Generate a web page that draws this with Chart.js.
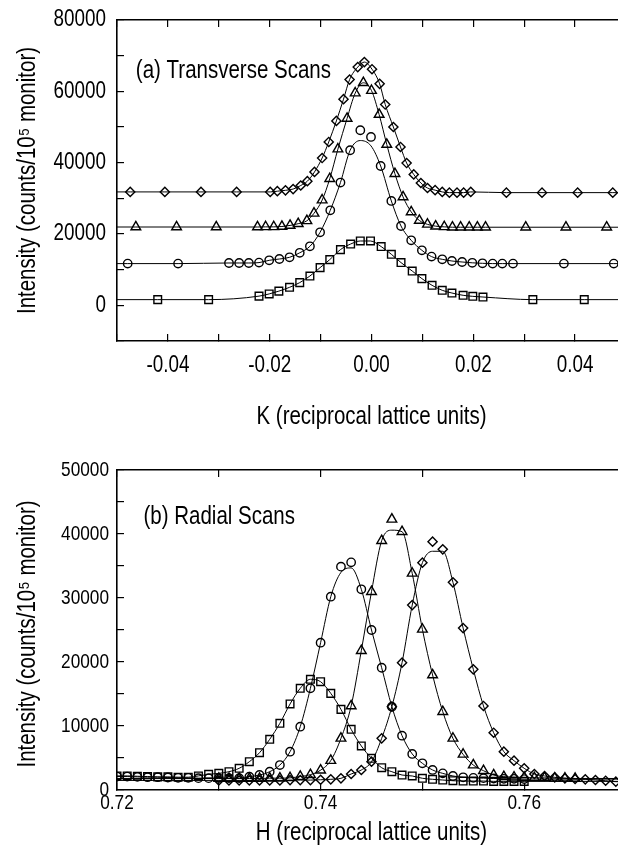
<!DOCTYPE html>
<html>
<head>
<meta charset="utf-8">
<script src="https://cdn.jsdelivr.net/npm/chart.js@4.4.1/dist/chart.umd.min.js"></script>
<style>
  html, body { margin: 0; padding: 0; background: #fff; overflow: hidden; }
  #wrap { position: relative; width: 618px; height: 852px; overflow: hidden; }
  .box { position: absolute; left: 0; }
  #top { top: 0; }
  #bot { top: 430px; }
</style>
</head>
<body>
<div id="wrap">
  <div class="box" id="top"><canvas id="c1" width="640" height="430"></canvas></div>
  <div class="box" id="bot"><canvas id="c2" width="640" height="422"></canvas></div>
</div>
<script>
// ---- (a) transverse scans, K in r.l.u.
const kDiamond = [-0.0474, -0.0406, -0.0335, -0.0265, -0.0199, -0.0185, -0.0169, -0.0154, -0.0139, -0.0126, -0.0112, -0.0097, -0.0084, -0.0069, -0.0055, -0.0043, -0.0027, -0.0014, 0.0001, 0.0016, 0.0027, 0.0043, 0.0057, 0.0069, 0.0083, 0.0097, 0.0110, 0.0125, 0.0139, 0.0153, 0.0168, 0.0181, 0.0195, 0.0265, 0.0335, 0.0405, 0.0474];
const iDiamond = [31800, 31800, 31800, 31800, 31800, 32000, 32250, 32600, 33600, 34800, 37400, 41300, 45800, 51700, 57800, 63300, 66800, 68200, 66200, 62100, 56300, 50000, 44400, 39900, 36700, 34300, 32900, 32300, 31800, 31600, 31600, 31600, 31800, 31600, 31600, 31600, 31600];

const kTriangle = [-0.0463, -0.0383, -0.0305, -0.0224, -0.0208, -0.0192, -0.0176, -0.0160, -0.0144, -0.0127, -0.0113, -0.0097, -0.0082, -0.0066, -0.0048, -0.0032, -0.0016, 0.0000, 0.0015, 0.0030, 0.0046, 0.0062, 0.0078, 0.0094, 0.0110, 0.0126, 0.0143, 0.0159, 0.0175, 0.0192, 0.0208, 0.0224, 0.0303, 0.0382, 0.0462];
const iTriangle = [21960, 21960, 21960, 21960, 22000, 22000, 22100, 22400, 22900, 23700, 25800, 29500, 35500, 43800, 52400, 59500, 62400, 60200, 53500, 45100, 36900, 30400, 26200, 23800, 22700, 22200, 22000, 21900, 21900, 21900, 21900, 21900, 21900, 21900, 21900];

const kCircle = [-0.0479, -0.0380, -0.0280, -0.0260, -0.0241, -0.0221, -0.0201, -0.0181, -0.0161, -0.0141, -0.0121, -0.0101, -0.0081, -0.0061, -0.0042, -0.0022, -0.0001, 0.0018, 0.0039, 0.0058, 0.0078, 0.0099, 0.0118, 0.0139, 0.0158, 0.0178, 0.0198, 0.0218, 0.0238, 0.0257, 0.0278, 0.0378, 0.0476];
const iCircle = [11700, 11700, 11870, 11870, 11870, 11980, 12620, 12990, 13460, 14730, 16550, 20480, 26650, 34420, 43480, 49090, 47210, 39070, 29260, 22240, 18230, 15430, 13660, 12900, 12430, 12150, 11920, 11780, 11700, 11700, 11700, 11700, 11700];
const fitCircle = [11700, 11700, 11870, 11870, 11870, 11980, 12620, 12990, 13460, 14730, 16550, 20480, 26650, 34420, 43480, 46200, 44700, 39070, 29260, 22240, 18230, 15430, 13660, 12900, 12430, 12150, 11920, 11780, 11700, 11700, 11700, 11700, 11700];

const kSquare = [-0.0420, -0.0320, -0.0221, -0.0201, -0.0182, -0.0161, -0.0141, -0.0121, -0.0101, -0.0082, -0.0061, -0.0041, -0.0022, -0.0002, 0.0019, 0.0039, 0.0058, 0.0080, 0.0099, 0.0119, 0.0139, 0.0158, 0.0180, 0.0199, 0.0219, 0.0317, 0.0418];
const iSquare = [1600, 1600, 2580, 3200, 3980, 5050, 6370, 8220, 10570, 12820, 15620, 17190, 18040, 18040, 16470, 14310, 11980, 9620, 7490, 5610, 4210, 3450, 2810, 2520, 2330, 1600, 1600];

// ---- (b) radial scans, H in r.l.u.
const hScan = [0.720, 0.721, 0.722, 0.723, 0.724, 0.725, 0.726, 0.727, 0.728, 0.729, 0.730, 0.731, 0.732, 0.733, 0.734, 0.735, 0.736, 0.737, 0.738, 0.739, 0.740, 0.741, 0.742, 0.743, 0.744, 0.745, 0.746, 0.747, 0.748, 0.749, 0.750, 0.751, 0.752, 0.753, 0.754, 0.755, 0.756, 0.757, 0.758, 0.759, 0.760];
const rSquare = [2200, 2200, 2150, 2100, 2050, 2050, 2000, 2000, 2200, 2450, 2600, 2860, 3390, 4420, 5830, 7920, 10420, 13440, 15890, 17300, 16920, 15100, 12600, 9480, 6880, 4950, 3480, 2860, 2340, 2190, 1830, 1670, 1560, 1450, 1400, 1400, 1400, 1350, 1350, 1350, 1350];
const rCircle = [2100, 2100, 2050, 2000, 2000, 1950, 1900, 1900, 1850, 1850, 1850, 1850, 1850, 2080, 2340, 2860, 3900, 5990, 9890, 15890, 23020, 30200, 34900, 35570, 31360, 25000, 19100, 13020, 8490, 5630, 4170, 3130, 2600, 2190, 1980, 1900, 1850, 1800, 1750, 1750, 1700];
const rCircleFit = [2100, 2100, 2050, 2000, 2000, 1950, 1900, 1900, 1850, 1850, 1850, 1850, 1850, 2080, 2340, 2860, 3900, 5990, 9890, 15890, 23020, 30200, 34000, 34700, 31360, 25000, 19100, 13020, 8490, 5630, 4170, 3130, 2600, 2190, 1980, 1900, 1850, 1800, 1750, 1750, 1700];

const hTriangle = [0.730, 0.731, 0.732, 0.733, 0.734, 0.735, 0.736, 0.737, 0.738, 0.739, 0.740, 0.741, 0.742, 0.743, 0.744, 0.745, 0.746, 0.747, 0.748, 0.749, 0.750, 0.751, 0.752, 0.753, 0.754, 0.755, 0.756, 0.757, 0.758, 0.759, 0.760, 0.761, 0.762, 0.763, 0.764, 0.765];
const rTriangle = [1800, 1800, 1800, 1800, 1800, 1850, 1850, 1900, 2100, 2400, 3100, 4600, 8070, 13130, 21770, 30990, 38960, 42300, 40360, 33850, 25100, 17970, 12240, 8070, 5570, 3900, 3020, 2340, 2080, 2000, 1950, 1900, 1900, 1850, 1850, 1800];
const rTriangleFit = [1800, 1800, 1800, 1800, 1800, 1850, 1850, 1900, 2100, 2400, 3100, 4600, 8070, 13130, 21770, 30990, 38960, 40600, 40360, 33850, 25100, 17970, 12240, 8070, 5570, 3900, 3020, 2340, 2080, 2000, 1950, 1900, 1900, 1850, 1850, 1800];

const hDiamond = [0.730, 0.731, 0.732, 0.733, 0.734, 0.735, 0.736, 0.737, 0.738, 0.739, 0.740, 0.741, 0.742, 0.743, 0.744, 0.745, 0.746, 0.747, 0.748, 0.749, 0.750, 0.751, 0.752, 0.753, 0.754, 0.755, 0.756, 0.757, 0.758, 0.759, 0.760, 0.761, 0.762, 0.763, 0.764, 0.765, 0.766, 0.767, 0.768, 0.769];
const rDiamond = [1500, 1500, 1500, 1500, 1500, 1500, 1500, 1550, 1550, 1550, 1600, 1670, 1830, 2500, 3125, 4420, 8070, 13020, 19890, 28900, 35520, 38800, 37600, 32450, 25300, 18860, 13130, 8950, 5990, 4580, 3390, 2500, 2190, 1980, 1830, 1720, 1670, 1560, 1450, 1300];
const rDiamondFit = [1500, 1500, 1500, 1500, 1500, 1500, 1500, 1550, 1550, 1550, 1600, 1670, 1830, 2500, 3125, 4420, 8070, 13020, 19890, 28900, 35520, 37300, 37300, 32450, 25300, 18860, 13130, 8950, 5990, 4580, 3390, 2500, 2190, 1980, 1830, 1720, 1670, 1560, 1450, 1300];

const FONT = "'Liberation Sans', Arial, Helvetica, sans-serif";
const SQUEEZE = 0.82;   // no narrow face installed, so squeeze Liberation Sans
const Y_TITLE = 'Intensity (counts/10\u2075 monitor)';
Chart.defaults.font.family = FONT;
Chart.defaults.color = '#000';
Chart.defaults.animation = false;

function pts(xs, ys) {
    return xs.map((x, i) => ({ x: x, y: ys[i] }));
}
// fitted curve runs out to both edges of the frame
function curve(xs, ys, lo, hi) {
    return [{ x: lo, y: ys[0] }, ...pts(xs, ys), { x: hi, y: ys[ys.length - 1] }];
}
function markers(data, style, r) {
    return {
        data: data, showLine: false, pointStyle: style, pointRadius: r,
        pointBorderColor: '#000', pointBackgroundColor: 'rgba(0,0,0,0)',
        pointBorderWidth: 1.4, pointHoverRadius: r
    };
}
function line(data) {
    return {
        data: data, showLine: true, pointRadius: 0, borderColor: '#000',
        borderWidth: 1, cubicInterpolationMode: 'monotone'
    };
}

function narrowText(ctx, text, x, y, size, align, vertical) {
    ctx.save();
    ctx.translate(x, y);
    if (vertical) ctx.rotate(-Math.PI / 2);
    ctx.scale(SQUEEZE, 1);
    ctx.font = size + 'px ' + FONT;
    ctx.fillStyle = '#000';
    ctx.textAlign = align;
    ctx.textBaseline = 'middle';
    ctx.fillText(text, 0, 0);
    ctx.restore();
}

// tick labels, axis titles and panel caption, drawn condensed
const textPlugin = {
    id: 'narrowText',
    afterDraw(chart, args, o) {
        const { ctx, chartArea: a, scales } = chart;
        const sx = scales.x, sy = scales.y;
        sx.ticks.forEach(t => {
            const s = o.xLabel(t.value);
            if (s) narrowText(ctx, s, sx.getPixelForValue(t.value), a.bottom + o.xLabelOff, o.xFont, 'center');
        });
        sy.ticks.forEach(t => {
            const s = o.yLabel(t.value);
            if (s) narrowText(ctx, s, a.left - o.yLabelGap, sy.getPixelForValue(t.value), o.yFont, 'right');
        });
        narrowText(ctx, o.xTitle, (a.left + a.right) / 2, a.bottom + o.xTitleOff, 25, 'center');
        narrowText(ctx, Y_TITLE, 28, (a.top + a.bottom) / 2 + o.yTitleShift, 25, 'center', true);
        narrowText(ctx, o.note, sx.getPixelForValue(o.noteX), sy.getPixelForValue(o.noteY), 25, 'left');
    }
};

function axes(o) {
    const tickGrid = { drawOnChartArea: false, tickLength: -7, color: '#000', lineWidth: 1.2 };
    const border = { color: '#000', width: 1.6 };
    return {
        x: {
            type: 'linear', position: 'bottom', min: o.xmin, max: o.xmax,
            ticks: { stepSize: 0.01, display: false },
            grid: tickGrid, border: border,
            afterFit: s => { s.height = o.xHeight; }
        },
        xTop: {
            type: 'linear', position: 'top', min: o.xmin, max: o.xmax,
            ticks: { stepSize: 0.01, display: false },
            grid: tickGrid, border: border,
            afterFit: s => { s.height = 0; }
        },
        y: {
            type: 'linear', position: 'left', min: o.ymin, max: o.ymax,
            ticks: { stepSize: o.yStep, display: false },
            grid: tickGrid, border: border,
            afterFit: s => { s.width = 117; }
        },
        yRight: {
            type: 'linear', position: 'right', min: o.ymin, max: o.ymax,
            ticks: { stepSize: o.yStep, display: false },
            grid: tickGrid, border: border,
            afterFit: s => { s.width = 0; }
        }
    };
}

const xFmt = v => Math.round(v * 100) % 2 === 0 ? v.toFixed(2) : '';

const kMin = -0.05, kMax = 0.05;
new Chart(document.getElementById('c1'), {
    type: 'scatter',
    plugins: [textPlugin],
    data: {
        datasets: [
            line(curve(kDiamond, iDiamond, kMin, kMax)),
            line(curve(kTriangle, iTriangle, kMin, kMax)),
            line(curve(kCircle, fitCircle, kMin, kMax)),
            line(curve(kSquare, iSquare, kMin, kMax)),
            markers(pts(kDiamond, iDiamond), 'rectRot', 4.6),
            markers(pts(kTriangle, iTriangle), 'triangle', 5.6),
            markers(pts(kCircle, iCircle), 'circle', 4.2),
            markers(pts(kSquare, iSquare), 'rect', 5.4)
        ]
    },
    options: {
        responsive: false,
        layout: { padding: { top: 20, right: 14, left: 0, bottom: 0 } },
        scales: axes({ xmin: kMin, xmax: kMax, xHeight: 89, ymin: -10000, ymax: 80000, yStep: 10000 }),
        plugins: {
            legend: { display: false },
            tooltip: { enabled: false },
            narrowText: {
                xLabel: xFmt, yLabel: v => v % 20000 === 0 ? String(v) : '',
                xFont: 23, yFont: 23, xLabelOff: 25, yLabelGap: 11, xTitleOff: 76, yTitleShift: 0,
                xTitle: 'K (reciprocal lattice units)',
                note: '(a) Transverse Scans', noteX: -0.0463, noteY: 65600
            }
        }
    }
});

const hMin = 0.72, hMax = 0.77;
new Chart(document.getElementById('c2'), {
    type: 'scatter',
    plugins: [textPlugin],
    data: {
        datasets: [
            line(curve(hScan, rSquare, hMin, hMax)),
            line(curve(hScan, rCircleFit, hMin, hMax)),
            line(curve(hTriangle, rTriangleFit, hMin, hMax)),
            line(curve(hDiamond, rDiamondFit, hMin, hMax)),
            markers(pts(hScan, rSquare), 'rect', 5.4),
            markers(pts(hScan, rCircle), 'circle', 4.2),
            markers(pts(hTriangle, rTriangle), 'triangle', 5.6),
            markers(pts(hDiamond, rDiamond), 'rectRot', 4.6)
        ]
    },
    options: {
        responsive: false,
        layout: { padding: { top: 40, right: 14, left: 0, bottom: 0 } },
        scales: axes({ xmin: hMin, xmax: hMax, xHeight: 62, ymin: 0, ymax: 50000, yStep: 5000 }),
        plugins: {
            legend: { display: false },
            tooltip: { enabled: false },
            narrowText: {
                xLabel: xFmt, yLabel: v => v % 10000 === 0 ? String(v) : '',
                xFont: 21, yFont: 21, xLabelOff: 13, yLabelGap: 8, xTitleOff: 43, yTitleShift: 4,
                xTitle: 'H (reciprocal lattice units)',
                note: '(b) Radial Scans', noteX: 0.7226, noteY: 42700
            }
        }
    }
});
</script>
</body>
</html>
